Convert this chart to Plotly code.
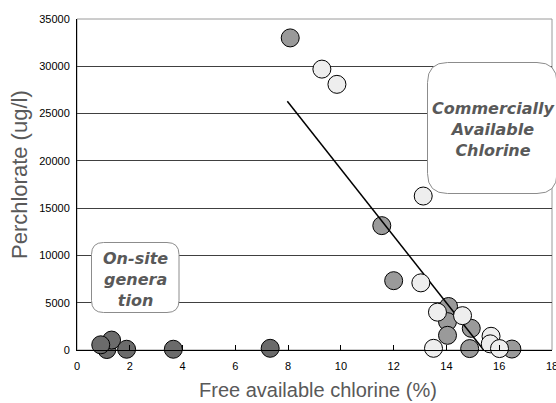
import plotly.graph_objects as go

# ---- data ----
onsite_x = [1.13, 1.31, 0.90, 1.88, 3.65, 7.32]
onsite_y = [50, 1050, 550, 80, 80, 180]

comm_dark_x = [8.08, 11.55, 12.00, 14.08, 14.04, 14.04, 14.94, 14.88, 16.48]
comm_dark_y = [33000, 13150, 7330, 4600, 3000, 1550, 2290, 150, 100]

comm_light_x = [9.28, 9.85, 13.12, 13.03, 13.66, 14.61, 13.51, 15.69, 15.66, 16.01]
comm_light_y = [29700, 28090, 16280, 7100, 4000, 3630, 180, 1450, 650, 150]

fit_x = [7.97, 15.41]
fit_y = [26300, 0]

x_ticks = [0, 2, 4, 6, 8, 10, 12, 14, 16, 18]
y_ticks = [0, 5000, 10000, 15000, 20000, 25000, 30000, 35000]
y_tick_labels = ["0", "5000", "10000", "15000", "20000", "25000", "30000", "35000"]

# ---- layout geometry (pixels) ----
W, H = 556, 403
ML, MR, MT, MB = 77, 4, 19, 53
PW, PH = W - ML - MR, H - MT - MB


def px(xp):
    return (xp - ML) / PW


def py(yp):
    return (H - MB - yp) / PH


def rounded_box(x0, y0, x1, y1, r):
    # pixel coords -> paper path with rounded corners
    rx, ry = r / PW, r / PH
    X0, X1 = px(x0), px(x1)
    Ytop, Ybot = py(y0), py(y1)
    return (f"M {X0+rx},{Ytop} L {X1-rx},{Ytop} Q {X1},{Ytop} {X1},{Ytop-ry} "
            f"L {X1},{Ybot+ry} Q {X1},{Ybot} {X1-rx},{Ybot} "
            f"L {X0+rx},{Ybot} Q {X0},{Ybot} {X0},{Ybot+ry} "
            f"L {X0},{Ytop-ry} Q {X0},{Ytop} {X0+rx},{Ytop} Z")


fig = go.Figure()

marker_line = dict(color="#000000", width=1)
fig.add_trace(go.Scatter(x=comm_dark_x, y=comm_dark_y, mode="markers",
                         marker=dict(size=18, color="#9a9a9a", line=marker_line),
                         showlegend=False, cliponaxis=False))
fig.add_trace(go.Scatter(x=fit_x, y=fit_y, mode="lines",
                         line=dict(color="#000000", width=1.5),
                         showlegend=False))
fig.add_trace(go.Scatter(x=comm_light_x, y=comm_light_y, mode="markers",
                         marker=dict(size=18, color="#eeeeee", line=marker_line),
                         showlegend=False, cliponaxis=False))
fig.add_trace(go.Scatter(x=onsite_x, y=onsite_y, mode="markers",
                         marker=dict(size=18, color="#6b6b6b", line=marker_line),
                         showlegend=False, cliponaxis=False))

tick_font = dict(family="Liberation Sans, Arial, sans-serif", size=11, color="#000000")

fig.update_xaxes(range=[0, 18], tickvals=x_ticks, ticks="inside", ticklen=5,
                 tickcolor="#000000", showline=True, linecolor="#000000", linewidth=1,
                 showgrid=False, zeroline=False, tickfont=tick_font,
                 ticklabelstandoff=6, ticklabeloverflow="allow", automargin=False)
fig.update_yaxes(range=[0, 35000], tickvals=y_ticks, ticktext=y_tick_labels,
                 ticks="", showline=True,
                 linecolor="#000000", linewidth=1, showgrid=True,
                 gridcolor="#404040", gridwidth=1, zeroline=False,
                 tickfont=tick_font, ticklabelstandoff=4, ticklabeloverflow="allow",
                 automargin=False)

shapes = [
    dict(type="rect", xref="paper", yref="paper", x0=0, y0=0, x1=1, y1=1,
         line=dict(color="#9a9a9a", width=1), layer="between"),
    dict(type="path", xref="paper", yref="paper",
         path=rounded_box(427.5, 62.5, 557, 193.5, 20),
         fillcolor="#ffffff", line=dict(color="#8c8c8c", width=1), layer="above"),
    dict(type="path", xref="paper", yref="paper",
         path=rounded_box(91.5, 242.5, 179, 312.5, 12),
         fillcolor="#ffffff", line=dict(color="#8c8c8c", width=1), layer="above"),
]

label_font = dict(family="DejaVu Sans, Verdana, sans-serif", size=16,
                  color="#595959", weight="bold", style="italic")
xtitle_font = dict(family="Liberation Sans, Arial, sans-serif", size=20, color="#595959")
ytitle_font = dict(family="Liberation Sans, Arial, sans-serif", size=22, color="#595959")

common = dict(xref="paper", yref="paper", showarrow=False,
              xanchor="center", yanchor="middle")
annotations = [
    dict(text="Commercially<br>Available<br>Chlorine", x=px(493), y=py(129),
         font=label_font, align="center", **common),
    dict(text="On-site<br>genera<br>tion", x=px(135), y=py(279),
         font=label_font, align="center", **common),
    dict(text="Free available chlorine (%)", x=px(318), y=py(390),
         font=xtitle_font, **common),
    dict(text="Perchlorate (ug/l)", x=px(19), y=py(175), textangle=-90,
         font=ytitle_font, **common),
]

fig.update_layout(width=W, height=H, margin=dict(l=ML, r=MR, t=MT, b=MB, autoexpand=False),
                  plot_bgcolor="#ffffff", paper_bgcolor="#ffffff",
                  shapes=shapes, annotations=annotations, showlegend=False)

fig.write_html("out.html", config={"displayModeBar": False},
               post_script="document.body.style.margin='0px';")
